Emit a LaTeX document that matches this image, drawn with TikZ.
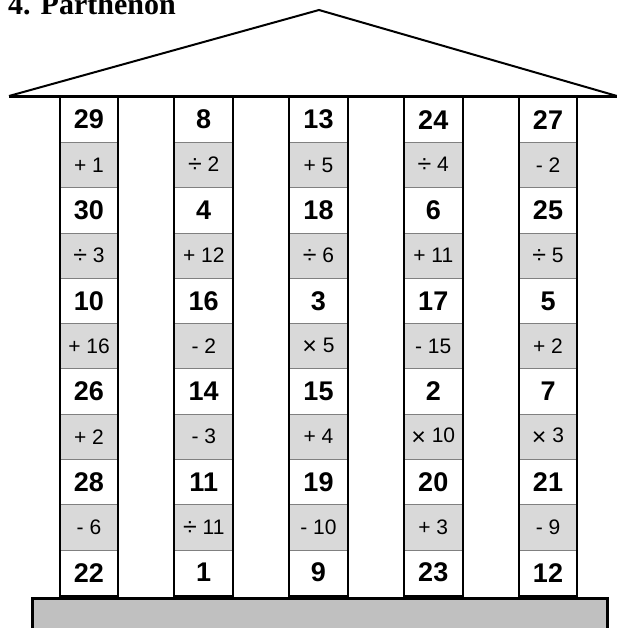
\documentclass[tikz,border=0pt]{standalone}
\usepackage{fontspec}
\newfontfamily\cellfont{Liberation Sans}
\newfontfamily\titlefont{Liberation Serif}
\definecolor{opgray}{HTML}{D9D9D9}
\definecolor{basegray}{HTML}{C0C0C0}
\definecolor{sepgray}{HTML}{808080}
\newcommand{\opdiv}{\raisebox{-1pt}{\fontsize{25}{25}\selectfont ÷}}
\newcommand{\optimes}{\raisebox{-2.5pt}{\fontsize{25}{25}\selectfont ×}}
\tikzset{
  numcell/.style={rectangle, minimum width=58pt, minimum height=45.3pt, inner sep=0pt,
    fill=white, draw=sepgray, line width=0.8pt, font=\cellfont\bfseries\fontsize{27}{27}\selectfont},
  opcell/.style={rectangle, minimum width=58pt, minimum height=45.3pt, inner sep=0pt,
    fill=opgray, draw=sepgray, line width=0.8pt, font=\cellfont\fontsize{21}{21}\selectfont},
  colframe/.style={draw=black, line width=2pt},
  roofline/.style={draw=black, line width=2pt, line join=miter},
}
\begin{document}
\begin{tikzpicture}[x=1pt,y=-1pt]
\useasboundingbox (0,0) rectangle (616,628);
% title
\node[anchor=base west, inner sep=0pt, font=\titlefont\bfseries\fontsize{30}{30}\selectfont] (title) at (8,15) {4. Parthenon};
% columns
\foreach [count=\i from 0] \items in {
  {29,+ 1,30,\opdiv\ 3,10,+ 16,26,+ 2,28,- 6,22},
  {8,\opdiv\ 2,4,+ 12,16,- 2,14,- 3,11,\opdiv\ 11,1},
  {13,+ 5,18,\opdiv\ 6,3,\optimes\ 5,15,+ 4,19,- 10,9},
  {24,\opdiv\ 4,6,+ 11,17,- 15,2,\optimes\ 10,20,+ 3,23},
  {27,- 2,25,\opdiv\ 5,5,+ 2,7,\optimes\ 3,21,- 9,12}} {
  \pgfmathsetmacro{\cx}{89+114.75*\i}
  \foreach [count=\j from 0] \t in \items {
    \pgfmathsetmacro{\cy}{97+45.3*\j+22.65}
    \pgfmathtruncatemacro{\rowpar}{mod(\j,2)}
    \ifnum\rowpar=0
      \node[numcell] (c\i-\j) at (\cx,\cy) {\t};
    \else
      \node[opcell] (c\i-\j) at (\cx,\cy) {\t};
    \fi
  }
  \draw[colframe] (c\i-0.north west) rectangle (c\i-10.south east);
}
% base
\draw[fill=basegray, line width=3pt] (32,598) rectangle (607,640);
% roof
\coordinate (roofL) at (9,96);
\coordinate (apex) at (319,10);
\coordinate (roofR) at (617,96);
\draw[roofline] (roofL) -- (apex) -- (roofR);
\draw[line width=3pt] (9,97) -- (617,97);
\end{tikzpicture}
\end{document}
